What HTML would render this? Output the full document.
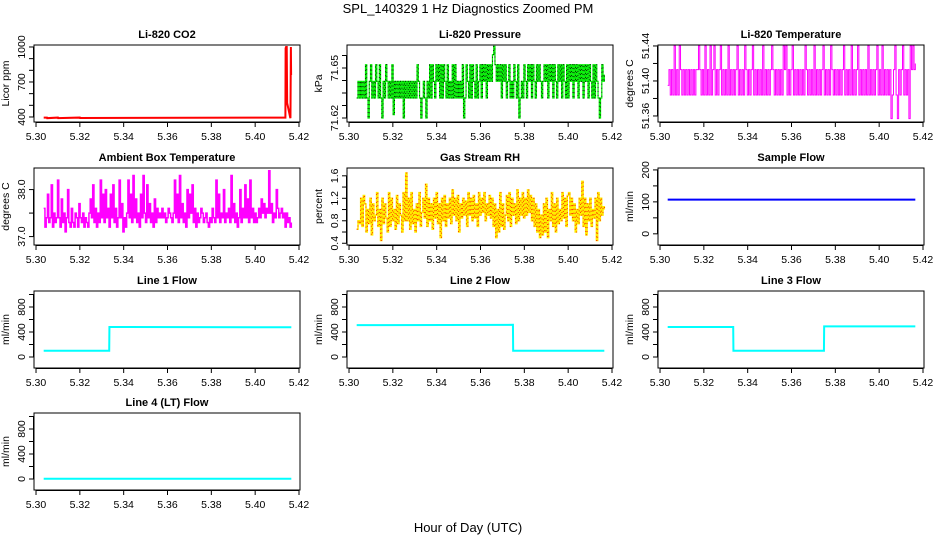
<!DOCTYPE html>
<html><head><meta charset="utf-8"><style>
html,body{margin:0;padding:0;background:#fff;}
svg{display:block;font-family:"Liberation Sans",Arial,sans-serif;}
</style></head><body>
<svg id="chart" width="936" height="540" viewBox="0 0 936 540" xmlns="http://www.w3.org/2000/svg">
<rect width="936" height="540" fill="#fff"/>
<text x="468" y="13" font-size="13" text-anchor="middle">SPL_140329  1 Hz Diagnostics Zoomed PM</text>
<text x="468" y="532" font-size="13" text-anchor="middle">Hour of Day (UTC)</text>
</svg>
<script>
// ---- data ----
const xTicks = [5.30,5.32,5.34,5.36,5.38,5.40,5.42];
const xTickLabels = ["5.30","5.32","5.34","5.36","5.38","5.40","5.42"];
const tStart = 5.3035, tEnd = 5.4165;

const co2Times = [5.3035,5.3050,5.3051,5.3100,5.3101,5.3200,5.3201,5.4138,5.4139,5.4141,5.4142,5.4144,5.4146,5.4160,5.4161,5.4163,5.4164];
const co2Values = [395,395,390,395,390,395,391,395,990,1000,1000,1000,520,395,390,1000,760];

const pressureValues = [71.632,71.642,71.632,71.642,71.632,71.642,71.632,71.652,71.632,71.62,71.642,71.652,71.632,71.642,71.632,71.652,71.642,71.632,71.652,71.632,71.62,71.642,71.632,71.652,71.642,71.632,71.642,71.632,71.652,71.622,71.642,71.632,71.642,71.632,71.642,71.632,71.642,71.62,71.642,71.632,71.642,71.632,71.642,71.632,71.642,71.632,71.642,71.632,71.652,71.642,71.632,71.62,71.632,71.642,71.632,71.62,71.642,71.632,71.652,71.632,71.652,71.642,71.632,71.652,71.642,71.652,71.632,71.652,71.632,71.652,71.642,71.632,71.652,71.632,71.642,71.632,71.652,71.632,71.652,71.632,71.642,71.632,71.642,71.632,71.652,71.62,71.632,71.652,71.642,71.632,71.652,71.632,71.652,71.642,71.632,71.652,71.632,71.642,71.652,71.632,71.652,71.642,71.652,71.632,71.652,71.642,71.652,71.642,71.658,71.663,71.652,71.642,71.652,71.642,71.652,71.632,71.652,71.642,71.652,71.632,71.642,71.652,71.632,71.642,71.632,71.652,71.642,71.632,71.652,71.62,71.632,71.642,71.632,71.652,71.642,71.632,71.652,71.642,71.652,71.632,71.652,71.642,71.632,71.652,71.642,71.652,71.642,71.632,71.642,71.652,71.642,71.652,71.632,71.652,71.642,71.652,71.632,71.652,71.642,71.632,71.652,71.642,71.652,71.632,71.652,71.642,71.632,71.652,71.632,71.652,71.642,71.652,71.632,71.652,71.642,71.652,71.632,71.652,71.642,71.652,71.632,71.652,71.642,71.652,71.632,71.652,71.642,71.632,71.652,71.632,71.652,71.642,71.632,71.62,71.632,71.652,71.642,71.646];

const liTempValues = [51.395,51.413,51.384,51.413,51.384,51.44,51.384,51.413,51.384,51.44,51.413,51.384,51.413,51.384,51.413,51.384,51.413,51.384,51.413,51.384,51.413,51.384,51.413,51.413,51.44,51.413,51.384,51.413,51.384,51.44,51.384,51.413,51.384,51.44,51.384,51.413,51.44,51.384,51.413,51.384,51.413,51.44,51.384,51.413,51.384,51.413,51.384,51.44,51.384,51.413,51.384,51.413,51.384,51.413,51.44,51.384,51.413,51.384,51.413,51.384,51.44,51.413,51.384,51.413,51.384,51.413,51.44,51.384,51.413,51.384,51.413,51.384,51.413,51.384,51.44,51.384,51.413,51.384,51.413,51.384,51.413,51.44,51.413,51.384,51.413,51.384,51.413,51.384,51.413,51.384,51.44,51.413,51.44,51.384,51.413,51.384,51.413,51.44,51.384,51.413,51.384,51.413,51.384,51.413,51.384,51.413,51.384,51.44,51.413,51.384,51.413,51.384,51.413,51.384,51.44,51.384,51.413,51.384,51.413,51.384,51.413,51.44,51.384,51.413,51.384,51.413,51.384,51.44,51.413,51.384,51.413,51.384,51.413,51.384,51.413,51.384,51.413,51.44,51.384,51.413,51.384,51.413,51.384,51.44,51.384,51.413,51.384,51.413,51.44,51.384,51.413,51.384,51.413,51.384,51.413,51.384,51.44,51.384,51.413,51.384,51.413,51.384,51.413,51.44,51.384,51.413,51.384,51.44,51.384,51.413,51.384,51.413,51.384,51.413,51.357,51.384,51.413,51.44,51.384,51.357,51.413,51.384,51.413,51.44,51.384,51.413,51.384,51.413,51.357,51.44,51.413,51.44,51.413,51.42];

const ambientValues = [37.6,37.2,37.4,37.9,37.3,37.4,38.1,37.2,37.5,37.3,37.4,38.2,37.4,37.2,37.8,37.3,37.5,37.1,37.4,38.0,37.3,37.2,37.6,37.3,37.2,37.5,37.4,37.2,37.7,37.4,37.3,37.5,37.2,37.4,37.3,37.2,37.5,37.8,37.4,38.1,37.3,37.6,37.2,37.5,37.3,38.2,37.4,37.9,37.3,38.0,37.4,37.6,37.2,37.9,37.4,38.1,37.3,37.6,37.2,37.4,38.2,37.4,37.7,37.1,37.4,37.2,37.5,38.2,37.4,37.9,37.3,38.3,37.4,37.8,37.3,37.5,37.2,37.9,37.4,38.3,37.5,37.3,38.1,37.4,37.7,37.3,37.5,37.2,37.8,37.3,37.6,37.4,37.5,37.4,37.6,37.4,37.5,37.3,37.4,37.6,37.5,37.4,37.3,37.5,38.2,37.4,37.9,37.3,38.3,37.4,37.7,37.3,37.5,37.2,38.0,37.4,37.9,37.5,38.1,37.3,37.6,37.2,37.5,37.3,37.4,37.6,37.5,37.3,37.4,37.5,37.3,37.2,37.4,37.3,37.6,37.4,37.3,38.2,37.4,37.9,37.3,37.5,37.4,38.0,37.3,37.5,37.4,37.6,37.3,38.3,37.4,37.7,37.3,37.5,37.2,37.4,38.0,37.3,37.6,37.4,38.1,37.4,37.8,37.3,38.2,37.4,37.6,37.3,37.5,37.3,37.4,37.6,37.4,37.8,37.5,37.7,37.4,37.6,37.5,38.4,37.5,37.7,37.3,37.5,37.4,38.0,37.6,37.4,37.5,37.6,37.4,37.5,37.2,37.5,37.3,37.4,37.2,37.3];

const rhValues = [0.65,0.8,0.75,1.2,0.7,1.25,1.1,0.6,1.0,0.75,1.2,0.55,1.1,0.8,0.9,1.3,0.7,1.0,0.45,1.2,0.75,1.1,0.85,0.6,1.3,0.7,1.2,0.8,1.0,0.65,1.25,0.75,1.1,0.9,0.6,1.3,0.8,1.65,0.8,1.2,0.65,1.3,0.75,1.0,0.6,1.1,0.8,1.3,0.7,0.95,1.2,0.85,1.45,0.7,1.2,0.8,1.1,0.65,1.2,0.85,1.3,0.75,1.1,0.5,1.2,0.8,1.25,0.7,1.1,0.85,1.2,0.75,1.35,0.9,1.2,0.8,1.25,0.6,1.1,0.85,1.2,0.9,1.15,0.7,1.3,0.9,1.2,0.8,1.25,0.85,1.1,0.7,1.3,0.9,1.2,0.95,1.3,0.8,1.1,0.9,1.25,0.85,1.2,0.7,1.1,0.5,1.0,0.6,1.3,0.7,1.1,0.65,0.9,1.25,0.8,1.3,0.7,1.2,0.9,1.1,0.75,1.35,0.8,1.2,0.9,1.3,0.85,1.2,0.9,1.35,0.95,1.25,0.8,1.2,0.7,1.1,0.6,1.0,0.5,0.9,0.55,1.1,0.6,1.2,0.5,1.0,0.8,1.3,0.7,1.1,0.6,1.2,0.75,1.0,0.8,1.3,0.85,1.2,0.7,1.25,1.3,0.9,1.2,0.8,1.1,0.6,1.0,0.75,1.2,0.9,1.5,0.7,1.2,0.55,1.1,0.8,1.2,0.7,1.0,0.85,1.2,0.45,1.3,0.8,1.2,0.9,1.05,1.0];

const sampleTimes = [5.3035,5.4165];
const sampleValues = [107,107];

const line1Times = [5.3035,5.3334,5.3335,5.4165];
const line1Values = [100,100,480,475];
const line2Times = [5.3035,5.3748,5.3749,5.4165];
const line2Values = [510,515,100,100];
const line3Times = [5.3035,5.3334,5.3335,5.3748,5.3749,5.4165];
const line3Values = [480,480,100,100,490,490];
const line4Times = [5.3035,5.4165];
const line4Values = [5,5];

// ---- layout helpers ----
const svg = document.getElementById('chart');
const NS = 'http://www.w3.org/2000/svg';
const colX = [34,347,658];
const rowY = [45,168,291,413];
const W = 266, H = 77;
const xLo = 5.29908, xHi = 5.42046;
function mk(tag, attrs, parent){
  const e = document.createElementNS(NS, tag);
  for (const k in attrs) e.setAttribute(k, attrs[k]);
  (parent||svg).appendChild(e);
  return e;
}
function evenTimes(n){ const a=[]; for(let i=0;i<n;i++) a.push(tStart+(tEnd-tStart)*i/(n-1)); return a; }

function panel(cfg){
  const L = colX[cfg.col], T = rowY[cfg.row];
  const g = mk('g', {});
  
  
  const xs = v => L + (v - xLo) / (xHi - xLo) * W;
  const ys = v => T + H - (v - cfg.lo) / (cfg.hi - cfg.lo) * H;
  const tt = mk('text', {x: L + W/2, y: T - 7, 'font-size': 11, 'font-weight': 'bold', 'text-anchor': 'middle'}, g);
  tt.textContent = cfg.title;
  
  
  const box = mk('rect', {x: L, y: T, width: W, height: H, fill: 'none', stroke: '#000', 'stroke-width': 1}, g);
  
  
  const xa = mk('g', {}, g);
  
  
  mk('line', {x1: xs(xTicks[0]), x2: xs(xTicks[xTicks.length-1]), y1: T+H+0.5, y2: T+H+0.5, stroke:'#000'}, xa);
  xTicks.forEach((t,i)=>{
    mk('line', {x1: xs(t), x2: xs(t), y1: T+H, y2: T+H+5, stroke:'#000'}, xa);
    const lb = mk('text', {x: xs(t), y: T+H+18, 'font-size': 10.5, 'text-anchor':'middle'}, xa);
    lb.textContent = xTickLabels[i];
  });
  const ya = mk('g', {}, g);
  
  
  mk('line', {x1: L-0.5, x2: L-0.5, y1: ys(cfg.ticks[0]), y2: ys(cfg.ticks[cfg.ticks.length-1]), stroke:'#000'}, ya);
  cfg.ticks.forEach(t=>{
    mk('line', {x1: L-5, x2: L, y1: ys(t), y2: ys(t), stroke:'#000'}, ya);
  });
  cfg.labels.forEach(([v,s])=>{
    const lb = mk('text', {x: 0, y: 0, 'font-size': 10.5, 'text-anchor':'middle', transform:`translate(${L-9},${ys(v)}) rotate(-90)`}, ya);
    lb.textContent = s;
  });
  const yl = mk('text', {x:0, y:0, 'font-size': 10.5, 'text-anchor':'middle', transform:`translate(${L-25},${T+H/2}) rotate(-90)`}, g);
  yl.textContent = cfg.ylab;
  
  
  const times = cfg.times || evenTimes(cfg.values.length);
  let d = '';
  cfg.values.forEach((v,i)=>{
    const x = xs(times[i]), y = ys(v);
    if (i===0) d += `M${x.toFixed(2)},${y.toFixed(2)}`;
    else if (cfg.step) d += `H${x.toFixed(2)}V${y.toFixed(2)}`;
    else d += `L${x.toFixed(2)},${y.toFixed(2)}`;
  });
  const p = mk('path', {d, fill:'none', stroke: cfg.color, 'stroke-width': cfg.lw||1, 'stroke-linejoin':'miter'}, g);
  
  
  if (cfg.dotColor){
    const p2 = mk('path', {d, fill:'none', stroke: cfg.dotColor, 'stroke-width': 0.8, 'stroke-dasharray':'1 3'}, g);
    
    
  }
}

const flowTicks = [0,200,400,600,800,1000];
const flowLabels = [[0,'0'],[400,'400'],[800,'800']];

panel({name:'co2', title:'Li-820 CO2', ylab:'Licor ppm', col:0,row:0, lo:357, hi:1017,
  ticks:[400,500,600,700,800,900,1000], labels:[[400,'400'],[700,'700'],[1000,'1000']],
  times:co2Times, values:co2Values, color:'#ff0000', lw:2});
panel({name:'pressure', title:'Li-820 Pressure', ylab:'kPa', col:1,row:0, lo:71.6176, hi:71.6638,
  ticks:[71.62,71.6275,71.635,71.6425,71.65,71.6575], labels:[[71.62,'71.62'],[71.65,'71.65']],
  values:pressureValues, color:'#00ee00', lw:1.2, step:true, dotColor:'#000'});
panel({name:'li820-temperature', title:'Li-820 Temperature', ylab:'degrees C', col:2,row:0, lo:51.3531, hi:51.4411,
  ticks:[51.36,51.38,51.40,51.42,51.44], labels:[[51.36,'51.36'],[51.40,'51.40'],[51.44,'51.44']],
  values:liTempValues, color:'#ff00ff', lw:1, step:true});
panel({name:'ambient-temperature', title:'Ambient Box Temperature', ylab:'degrees C', col:0,row:1, lo:36.821, hi:38.459,
  ticks:[37.0,37.5,38.0], labels:[[37.0,'37.0'],[38.0,'38.0']],
  values:ambientValues, color:'#ff00ff', lw:1.5, step:true});
panel({name:'gas-stream-rh', title:'Gas Stream RH', ylab:'percent', col:1,row:1, lo:0.369, hi:1.739,
  ticks:[0.4,0.6,0.8,1.0,1.2,1.4,1.6], labels:[[0.4,'0.4'],[0.8,'0.8'],[1.2,'1.2'],[1.6,'1.6']],
  values:rhValues, color:'#ffee00', lw:1.5, step:true, dotColor:'#ff0000'});
panel({name:'sample-flow', title:'Sample Flow', ylab:'ml/min', col:2,row:1, lo:-35, hi:206,
  ticks:[0,50,100,150,200], labels:[[0,'0'],[100,'100'],[200,'200']],
  times:sampleTimes, values:sampleValues, color:'#0000ff', lw:2});
panel({name:'line1-flow', title:'Line 1 Flow', ylab:'ml/min', col:0,row:2, lo:-176, hi:1056,
  ticks:flowTicks, labels:flowLabels, times:line1Times, values:line1Values, color:'#00ffff', lw:2});
panel({name:'line2-flow', title:'Line 2 Flow', ylab:'ml/min', col:1,row:2, lo:-176, hi:1056,
  ticks:flowTicks, labels:flowLabels, times:line2Times, values:line2Values, color:'#00ffff', lw:2});
panel({name:'line3-flow', title:'Line 3 Flow', ylab:'ml/min', col:2,row:2, lo:-176, hi:1056,
  ticks:flowTicks, labels:flowLabels, times:line3Times, values:line3Values, color:'#00ffff', lw:2});
panel({name:'line4-flow', title:'Line 4 (LT) Flow', ylab:'ml/min', col:0,row:3, lo:-176, hi:1056,
  ticks:flowTicks, labels:flowLabels, times:line4Times, values:line4Values, color:'#00ffff', lw:2});
</script>
</body></html>
